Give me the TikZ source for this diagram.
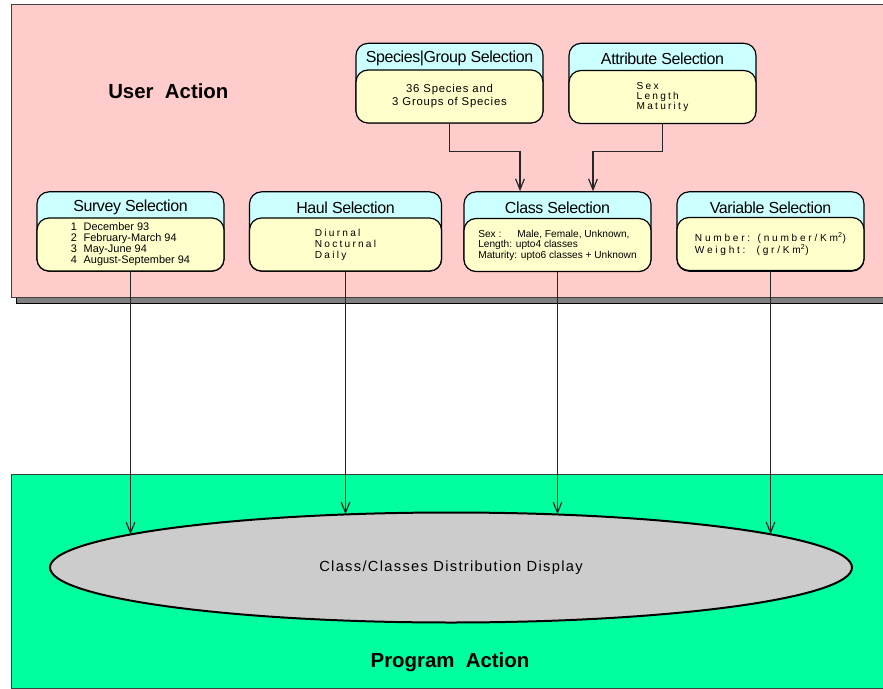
\documentclass[tikz,border=0pt]{standalone}
\usepackage{fontspec}
\setmainfont{Liberation Sans}
\newfontfamily\widefont[LetterSpace=22]{Liberation Sans}
\newfontfamily\widerfont[LetterSpace=27]{Liberation Sans}
\newfontfamily\midfont[LetterSpace=7]{Liberation Sans}
\newfontfamily\tightfont[LetterSpace=-2.5]{Liberation Sans}
\newfontfamily\dispfont[LetterSpace=9]{Liberation Sans}
\usetikzlibrary{arrows.meta,shapes.geometric,calc}

\definecolor{userpink}{RGB}{255,204,204}
\definecolor{proggreen}{RGB}{0,255,158}
\definecolor{headcyan}{RGB}{204,255,255}
\definecolor{bodyyellow}{RGB}{255,255,204}
\definecolor{displaygray}{RGB}{204,204,204}
\definecolor{shadowgray}{RGB}{128,128,128}

\tikzset{
  panel/.style={draw=black!75, line width=0.75pt},
  panelshadow/.style={fill=shadowgray, draw=black, line width=0.75pt},
  selhead/.style={draw, line width=0.9pt, fill=headcyan, rounded corners=9pt,
    minimum width=140.25pt, minimum height=59.5pt, inner sep=0pt},
  selbody/.style={draw, line width=0.9pt, fill=bodyyellow, rounded corners=9pt,
    minimum width=140.25pt, minimum height=39.75pt, inner sep=0pt, align=left},
  seltitle/.style={inner sep=0.75pt, font=\tightfont\fontsize{12}{14}\selectfont},
  areatitle/.style={inner sep=0.75pt, font=\bfseries\fontsize{15.3}{18}\selectfont},
  flow/.style={draw=black!85, line width=0.9pt, -{Straight Barb[length=8pt,width=6.5pt]}},
}

\begin{document}
\begin{tikzpicture}[x=0.75pt,y=0.75pt,yscale=-1,xscale=1]
\fill[white] (0,0) rectangle (883,689);
\useasboundingbox (0,0) rectangle (883,689);

\begin{scope}
\clip (0,0) rectangle (883,689);
%Shape: Rectangle (user side)
\draw[panelshadow] (16,9) rectangle (905,303);
\draw[panel, fill=userpink] (11,4) rectangle (900,297);
%Shape: Rectangle (program side)
\draw[panelshadow] (16,479) rectangle (905,694);
\draw[panel, fill=proggreen] (11,474) rectangle (900,688);
\end{scope}

% Text Node
\node[areatitle, anchor=west] (userTitle) at (107,91) {User~~Action};
\node[areatitle] (progTitle) at (450,662) {Program~~Action};

%Shape: Species box
\node[selhead] (speciesHead) at (449.5,83) {};
\node[selbody, align=center, font=\midfont\fontsize{8.5}{9.75}\selectfont] (species) at (449.5,96.5)
  {36 Species and\\3 Groups of Species};
\node[seltitle] (speciesTitle) at (449.5,58.5) {Species|Group Selection};

%Shape: Attribute box
\node[selhead] (attributeHead) at (662.5,83) {};
\node[selbody, font=\widefont\fontsize{7.6}{7.6}\selectfont] (attribute) at (662.5,97)
  {Sex\\Length\\Maturity};
\node[seltitle] (attributeTitle) at (662.5,59) {Attribute Selection};

%Shape: Survey box
\node[selhead] (surveyHead) at (130.5,231.5) {};
\node[selbody, font=\fontsize{8.2}{8.25}\selectfont] (survey) at (130.5,244.5)
  {1\hspace{5pt}December 93\\2\hspace{5pt}February-March 94\\3\hspace{5pt}May-June 94\\4\hspace{5pt}August-September 94};
\node[seltitle] (surveyTitle) at (130.5,207.5) {Survey Selection};

%Shape: Haul box
\node[selhead, minimum width=144pt] (haulHead) at (345.5,231.5) {};
\node[selbody, minimum width=144pt, font=\widefont\fontsize{7.6}{8.25}\selectfont] (haul) at (345.5,244.5)
  {Diurnal\\Nocturnal\\Daily};
\node[seltitle] (haulTitle) at (345.5,208) {Haul Selection};

%Shape: Class box
\node[selhead] (classHead) at (557.5,231.5) {};
\node[selbody, font=\fontsize{7.6}{7.9}\selectfont] (class) at (557.5,245)
  {Sex :\hspace{12pt}Male, Female, Unknown,\\Length: upto4 classes\\Maturity: upto6 classes + Unknown};
\node[seltitle] (classTitle) at (557.5,208) {Class Selection};

%Shape: Variable box
\node[selhead] (variableHead) at (770.5,231.5) {};
\node[selbody, font=\widerfont\fontsize{7.6}{7.6}\selectfont] (variable) at (770.5,244)
  {Number: (number/Km\textsuperscript{2})\\Weight:\ \ (gr/Km\textsuperscript{2})};
\node[seltitle] (variableTitle) at (770.5,208) {Variable Selection};

%Shape: Ellipse
\node[ellipse, draw, line width=1.5pt, fill=displaygray, inner sep=0pt,
  minimum width=601.5pt, minimum height=82.5pt, font=\dispfont\fontsize{11}{13}\selectfont]
  (display) at (451,567.5) {Class/Classes Distribution Display};

% points where the flows meet the ellipse
\coordinate (rimSurvey) at (130.5,534.5);
\coordinate (rimHaul) at (345.5,514.3);
\coordinate (rimClass) at (557.5,514.3);
\coordinate (rimVariable) at (770.5,534.2);

%Straight Lines
\draw[flow] (species.south) -- ++(0,27.5) -| ($(classHead.north)+(-37.5,0)$);
\draw[flow] (attribute.south) -- ++(0,27.5) -| ($(classHead.north)+(35.5,0)$);
\draw[flow] (survey.south) -- (rimSurvey);
\draw[flow] (haul.south) -- (rimHaul);
\draw[flow] (class.south) -- (rimClass);
\draw[flow] (variable.south) -- (rimVariable);

\end{tikzpicture}
\end{document}
